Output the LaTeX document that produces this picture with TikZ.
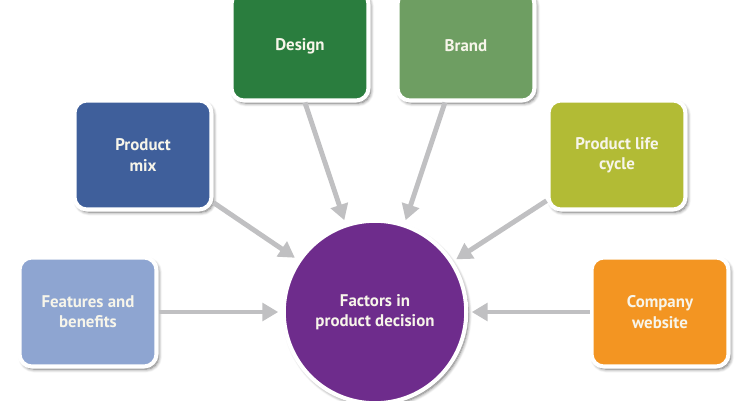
\documentclass[tikz,border=0pt]{standalone}
\usepackage{fontspec}
\setmainfont{PT Sans}
\usetikzlibrary{arrows.meta,shadows.blur}

\definecolor{featblue}{HTML}{8EA5D1}
\definecolor{mixblue}{HTML}{3F5F9B}
\definecolor{designgreen}{HTML}{2A7D3E}
\definecolor{brandgreen}{HTML}{6E9E62}
\definecolor{lifeolive}{HTML}{B2BB35}
\definecolor{weborange}{HTML}{F39522}
\definecolor{hubpurple}{HTML}{6E2C8C}
\definecolor{arrgray}{HTML}{C0C0C2}
\definecolor{labelwhite}{HTML}{F7F5EA}

\tikzset{
  box/.style={draw=white, line width=2.3pt, rounded corners=7pt,
    minimum width=2.74cm, minimum height=2.18cm, align=center,
    text=labelwhite, font=\fontsize{9.6}{11.5}\selectfont\bfseries,
    blur shadow={shadow xshift=1.2pt, shadow yshift=-1.5pt,
      shadow opacity=60, shadow blur steps=6, shadow blur extra rounding=2pt}},
  hub/.style={circle, draw=white, line width=2.3pt, fill=hubpurple,
    minimum size=3.65cm, align=center, text=labelwhite,
    font=\fontsize{9.6}{11.5}\selectfont\bfseries,
    blur shadow={shadow xshift=1.2pt, shadow yshift=-1.5pt,
      shadow opacity=60, shadow blur steps=6}},
  arr/.style={draw=arrgray, line width=2.8pt,
    -{Triangle[length=9pt,width=10pt]}, shorten >=2pt}
}

\begin{document}
\begin{tikzpicture}[x=0.02cm, y=0.02cm]

  \useasboundingbox (0,0) rectangle (750,400);

  % Factor boxes
  \node[box, fill=featblue]    (feat)   at (88,88)   {Features and\\benefits};
  \node[box, fill=mixblue]     (mix)    at (143,245) {Product\\mix};
  \node[box, fill=designgreen] (design) at (300,354) {Design};
  \node[box, fill=brandgreen]  (brand)  at (466,354) {Brand};
  \node[box, fill=lifeolive]   (life)   at (617,245) {Product life\\cycle};
  \node[box, fill=weborange]   (web)    at (660,88)  {Company\\website};

  % Central circle
  \node[hub] (hub) at (375,88) {Factors in\\product decision};

  % Arrows into the circle
  \draw[arr] (feat) -- (hub);
  \draw[arr] (mix) -- (hub);
  \draw[arr] ([xshift=2.8pt]design.south) -- (hub);
  \draw[arr] ([xshift=-12pt]brand.south) -- (hub);
  \draw[arr] (life) -- (hub);
  \draw[arr] (web) -- (hub);

\end{tikzpicture}
\end{document}
